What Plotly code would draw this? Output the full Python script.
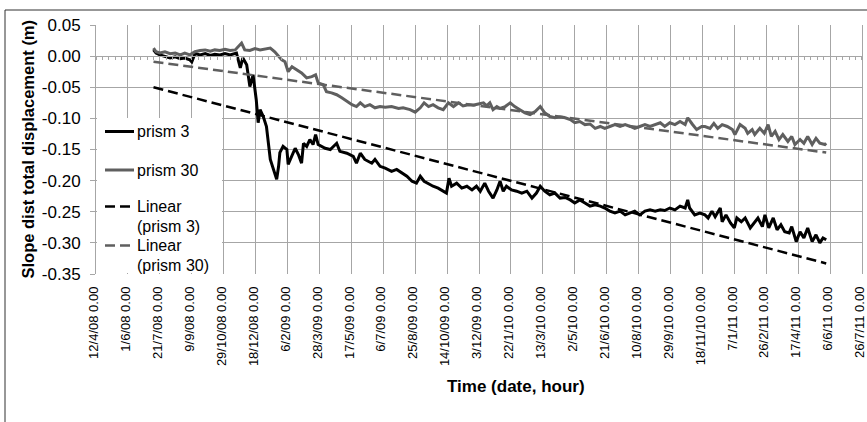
import pandas as pd
import plotly.graph_objects as go

# ---------------- data ----------------
start_date = "2008-04-12"

x_tick_labels = ["12/4/08 0.00", "1/6/08 0.00", "21/7/08 0.00", "9/9/08 0.00",
                 "29/10/08 0.00", "18/12/08 0.00", "6/2/09 0.00", "28/3/09 0.00",
                 "17/5/09 0.00", "6/7/09 0.00", "25/8/09 0.00", "14/10/09 0.00",
                 "3/12/09 0.00", "22/1/10 0.00", "13/3/10 0.00", "2/5/10 0.00",
                 "21/6/10 0.00", "10/8/10 0.00", "29/9/10 0.00", "18/11/10 0.00",
                 "7/1/11 0.00", "26/2/11 0.00", "17/4/11 0.00", "6/6/11 0.00",
                 "26/7/11 0.00"]
y_tick_values = [0.05, 0.0, -0.05, -0.10, -0.15, -0.20, -0.25, -0.30, -0.35]
y_tick_labels = ["0.05", "0.00", "-0.05", "-0.10", "-0.15", "-0.20", "-0.25", "-0.30", "-0.35"]

# days after start_date, displacement (m)
days_p3 = [90, 94, 100, 108, 116, 124, 132, 139, 147, 150, 155, 163, 171, 179, 186, 194,
           202, 210, 220, 226, 230, 236, 241, 246, 251, 254, 257, 262, 267, 273, 278, 283,
           286, 288, 293, 299, 301, 307, 312, 317, 322, 325, 330, 335, 340, 344, 348, 359,
           367, 377, 382, 393, 403, 408, 414, 421, 432, 437, 445, 453, 463, 471, 479, 487,
           495, 502, 508, 514, 521, 528, 536, 544, 549, 553, 557, 565, 573, 581, 589, 596,
           602, 609, 615, 622, 628, 633, 638, 643, 651, 659, 667, 675, 683, 690, 696, 703,
           711, 719, 727, 735, 743, 750, 758, 766, 774, 782, 790, 797, 805, 813, 821, 829,
           837, 844, 852, 860, 868, 876, 884, 891, 899, 907, 915, 923, 927, 930, 938, 946,
           954, 959, 965, 970, 978, 981, 987, 994, 1000, 1004, 1011, 1017, 1025, 1031, 1037,
           1044, 1048, 1054, 1061, 1067, 1073, 1079, 1086, 1090, 1097, 1103, 1109, 1115,
           1122, 1128, 1134, 1139, 1144]
disp_p3 = [0.010, 0.005, 0.002, 0.000, -0.003, -0.001, -0.004, -0.003, -0.006, -0.009,
           0.004, 0.002, 0.004, 0.001, 0.003, 0.002, 0.004, 0.002, 0.005, -0.019, -0.003,
           -0.014, -0.049, -0.030, -0.070, -0.107, -0.086, -0.097, -0.113, -0.166, -0.182,
           -0.198, -0.177, -0.155, -0.145, -0.150, -0.174, -0.161, -0.148, -0.158, -0.172,
           -0.140, -0.145, -0.134, -0.142, -0.126, -0.142, -0.148, -0.150, -0.140, -0.153,
           -0.156, -0.161, -0.172, -0.156, -0.166, -0.172, -0.166, -0.177, -0.180, -0.185,
           -0.182, -0.188, -0.193, -0.201, -0.204, -0.193, -0.201, -0.205, -0.209, -0.212,
           -0.217, -0.220, -0.196, -0.209, -0.204, -0.212, -0.209, -0.215, -0.209, -0.217,
           -0.204, -0.217, -0.228, -0.215, -0.201, -0.217, -0.209, -0.215, -0.217, -0.220,
           -0.217, -0.228, -0.220, -0.209, -0.217, -0.223, -0.220, -0.228, -0.227, -0.231,
           -0.236, -0.231, -0.236, -0.241, -0.239, -0.241, -0.244, -0.249, -0.252, -0.249,
           -0.255, -0.252, -0.249, -0.255, -0.249, -0.247, -0.249, -0.247, -0.248, -0.244,
           -0.247, -0.241, -0.244, -0.231, -0.244, -0.255, -0.252, -0.255, -0.260, -0.249,
           -0.258, -0.244, -0.266, -0.255, -0.268, -0.276, -0.260, -0.266, -0.260, -0.276,
           -0.268, -0.260, -0.274, -0.255, -0.276, -0.260, -0.279, -0.271, -0.282, -0.284,
           -0.274, -0.298, -0.282, -0.292, -0.276, -0.298, -0.287, -0.300, -0.292, -0.295]

days_p30 = [90, 94, 100, 108, 116, 124, 132, 139, 147, 155, 163, 171, 179, 186, 194, 202,
            210, 218, 228, 233, 241, 249, 257, 265, 273, 280, 291, 296, 301, 307, 314, 322,
            330, 338, 344, 348, 356, 361, 369, 377, 385, 393, 401, 408, 414, 421, 429, 437,
            445, 453, 463, 474, 481, 492, 500, 508, 514, 521, 528, 536, 544, 552, 560, 568,
            575, 583, 591, 599, 607, 612, 617, 622, 628, 633, 641, 649, 656, 664, 672, 680,
            688, 696, 703, 711, 719, 727, 735, 743, 750, 758, 766, 774, 782, 790, 797, 805,
            813, 821, 829, 837, 844, 852, 860, 868, 876, 884, 891, 899, 907, 915, 923, 927,
            934, 941, 949, 954, 962, 968, 974, 981, 989, 997, 1001, 1009, 1017, 1021, 1028,
            1032, 1040, 1047, 1053, 1058, 1064, 1070, 1076, 1084, 1090, 1095, 1103, 1109,
            1115, 1122, 1128, 1134, 1142, 1144]
disp_p30 = [0.013, 0.007, 0.005, 0.007, 0.004, 0.005, 0.002, 0.005, 0.002, 0.007, 0.009,
            0.010, 0.008, 0.010, 0.009, 0.011, 0.009, 0.010, 0.021, 0.010, 0.009, 0.012,
            0.010, 0.012, 0.013, 0.007, -0.006, -0.009, -0.025, -0.017, -0.022, -0.027,
            -0.035, -0.033, -0.030, -0.043, -0.046, -0.057, -0.059, -0.062, -0.067, -0.073,
            -0.078, -0.081, -0.075, -0.081, -0.078, -0.083, -0.081, -0.082, -0.081, -0.084,
            -0.083, -0.086, -0.090, -0.083, -0.075, -0.081, -0.078, -0.083, -0.086, -0.075,
            -0.081, -0.075, -0.080, -0.078, -0.079, -0.077, -0.075, -0.080, -0.075, -0.086,
            -0.081, -0.084, -0.081, -0.075, -0.081, -0.086, -0.091, -0.094, -0.089, -0.081,
            -0.091, -0.097, -0.099, -0.098, -0.099, -0.102, -0.107, -0.105, -0.110, -0.109,
            -0.116, -0.113, -0.116, -0.113, -0.110, -0.113, -0.110, -0.113, -0.116, -0.113,
            -0.110, -0.113, -0.110, -0.107, -0.113, -0.107, -0.110, -0.105, -0.110, -0.099,
            -0.109, -0.118, -0.113, -0.113, -0.116, -0.108, -0.116, -0.110, -0.113, -0.118,
            -0.126, -0.110, -0.116, -0.124, -0.118, -0.126, -0.116, -0.124, -0.110, -0.129,
            -0.121, -0.134, -0.126, -0.137, -0.129, -0.142, -0.134, -0.140, -0.129, -0.142,
            -0.132, -0.140, -0.142, -0.140]

trend_days = [90, 1144]
trend_p3 = [-0.050, -0.333]
trend_p30 = [-0.009, -0.155]

# ---------------- helpers ----------------
t0 = pd.Timestamp(start_date)
def to_dates(days):
    return [t0 + pd.Timedelta(days=d) for d in days]

tick_dates = [pd.to_datetime(s.split()[0], format="%d/%m/%y") for s in x_tick_labels]
x_range = [tick_dates[0] - pd.Timedelta(hours=2), tick_dates[-1] + pd.Timedelta(hours=2)]
minor_ticks = pd.date_range(tick_dates[0], tick_dates[-1], freq="10D")

W, H = 867, 422
ML, MR, MT, MB = 96, 5, 25, 148
PW, PH = W - ML - MR, H - MT - MB
def px(x):
    return (x - ML) / PW
def py(y):
    return (H - MB - y) / PH

BLACK = "#000000"
GRAY = "#5f5f5f"
GRID = "#a6a6a6"
FONT = "Liberation Sans, Arial, sans-serif"

fig = go.Figure()
fig.add_trace(go.Scatter(x=to_dates(days_p3), y=disp_p3, mode="lines", name="prism 3",
                         line=dict(color=BLACK, width=3), showlegend=False))
fig.add_trace(go.Scatter(x=to_dates(days_p30), y=disp_p30, mode="lines", name="prism 30",
                         line=dict(color=GRAY, width=3), showlegend=False))
fig.add_trace(go.Scatter(x=to_dates(trend_days), y=trend_p3, mode="lines",
                         name="Linear (prism 3)", xaxis="x2",
                         line=dict(color=BLACK, width=2.5, dash="10px,5px"), showlegend=False))
fig.add_trace(go.Scatter(x=to_dates(trend_days), y=trend_p30, mode="lines",
                         name="Linear (prism 30)", xaxis="x2",
                         line=dict(color=GRAY, width=2.5, dash="10px,5px"), showlegend=False))

y_min, y_max = -0.35, 0.05
zero_pos = (0 - y_min) / (y_max - y_min)

fig.update_layout(
    width=W, height=H, autosize=False,
    margin=dict(l=ML, r=MR, t=MT, b=MB, autoexpand=False),
    paper_bgcolor="white", plot_bgcolor="white",
    font=dict(family=FONT, color="black"),
    showlegend=False,
    xaxis=dict(type="date", range=x_range, tickvals=tick_dates, ticktext=x_tick_labels,
               tickangle=-90, tickfont=dict(size=13), showgrid=True, gridcolor=GRID,
               gridwidth=1, zeroline=False, showline=False, ticks="", ticklabelstandoff=9,
               ticklabelshift=-2, automargin=False, ticklabeloverflow="allow"),
    xaxis2=dict(type="date", range=x_range, overlaying="x", anchor="free",
                position=zero_pos, side="bottom", showgrid=False, zeroline=False,
                showline=True, linecolor=GRID, linewidth=1, ticks="outside", ticklen=3,
                tickcolor=GRID, tickvals=list(minor_ticks), showticklabels=False,
                automargin=False),
    yaxis=dict(range=[y_min, y_max], tickvals=y_tick_values, ticktext=y_tick_labels,
               tickfont=dict(size=17), showgrid=True, gridcolor=GRID, gridwidth=1,
               zeroline=False, showline=True, mirror=True, linecolor=GRID, ticks="outside",
               ticklen=5, tickcolor=GRID, ticklabelstandoff=6, automargin=False),
)

annotations = [
    dict(text="<b>Slope dist total displacement (m)</b>", x=px(27), y=0.5, textangle=-90,
         xref="paper", yref="paper", showarrow=False, xanchor="center", yanchor="middle",
         font=dict(size=16.5)),
    dict(text="<b>Time (date, hour)</b>", x=px(516), y=py(387), xref="paper", yref="paper",
         showarrow=False, xanchor="center", yanchor="middle", font=dict(size=17)),
]

shapes = [
    # chart-area frame (top and left edges)
    dict(type="line", xref="paper", yref="paper", x0=px(5), x1=px(870), y0=py(10), y1=py(10),
         line=dict(color="#303030", width=1)),
    dict(type="line", xref="paper", yref="paper", x0=px(5), x1=px(5), y0=py(10), y1=py(425),
         line=dict(color="#303030", width=1)),
    # legend background
    dict(type="rect", xref="paper", yref="paper", x0=px(97), x1=px(222), y0=py(118), y1=py(273),
         fillcolor="white", line=dict(width=0), layer="above"),
]

# legend: (text lines, colour, dash, y of each text line in px)
legend_items = [
    (["prism 3"], BLACK, None, [131.5]),
    (["prism 30"], GRAY, None, [170.0]),
    (["Linear", "(prism 3)"], BLACK, "10px,5px", [206.5, 226.0]),
    (["Linear", "(prism 30)"], GRAY, "10px,5px", [245.5, 265.0]),
]
for lines, color, dash, ys in legend_items:
    ln = dict(color=color, width=3 if dash is None else 2.5)
    if dash:
        ln["dash"] = dash
    shapes.append(dict(type="line", xref="paper", yref="paper", x0=px(105), x1=px(134),
                       y0=py(ys[0]), y1=py(ys[0]), line=ln, layer="above"))
    for text, yy in zip(lines, ys):
        annotations.append(dict(text=text, x=px(135), y=py(yy), xref="paper", yref="paper",
                                showarrow=False, xanchor="left", yanchor="middle",
                                align="left", font=dict(size=16)))

fig.update_layout(annotations=annotations, shapes=shapes)
fig.write_html(
    "out.html",
    config={"displayModeBar": False},
    post_script="document.body.style.margin='0';document.body.style.overflow='hidden';"
                "document.documentElement.style.overflow='hidden';",
)
